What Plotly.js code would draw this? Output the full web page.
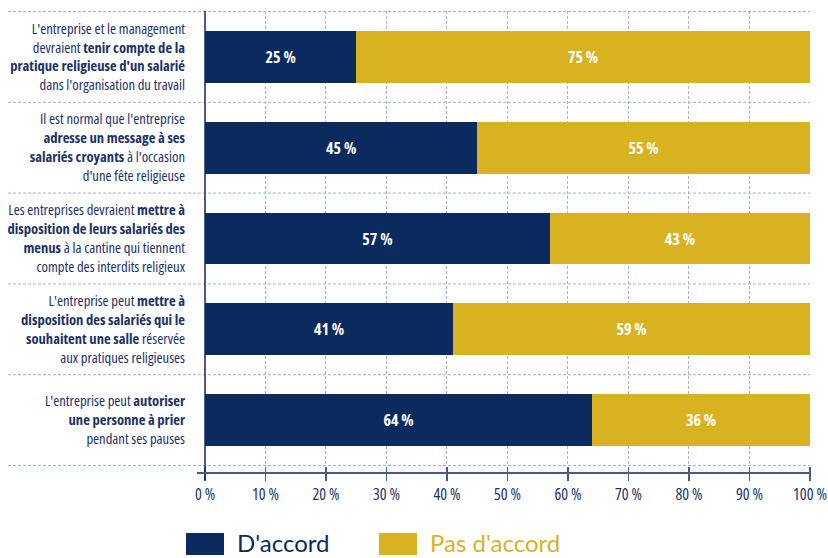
<!DOCTYPE html>
<html>
<head>
<meta charset="utf-8">
<script src="https://cdn.plot.ly/plotly-3.0.1.min.js"></script>
<style>
html,body{margin:0;padding:0;background:#fff;}
#chart{width:828px;height:558px;}
#chart .ytick text, #chart .xtick text, #chart .bartext, #chart .bartext tspan, #chart .ytick tspan { font-stretch: condensed !important; }
</style>
</head>
<body>
<div id="chart"></div>
<script>
// ---- data ----
const categories = [
  "L'entreprise et le management<br>devraient <b>tenir compte de la</b><br><b>pratique religieuse d'un salarié</b><br>dans l'organisation du travail",
  "Il est normal que l'entreprise<br><b>adresse un message à ses</b><br><b>salariés croyants</b> à l'occasion<br>d'une fête religieuse",
  "Les entreprises devraient <b>mettre à</b><br><b>disposition de leurs salariés des</b><br><b>menus</b> à la cantine qui tiennent<br>compte des interdits religieux",
  "L'entreprise peut <b>mettre à</b><br><b>disposition des salariés qui le</b><br><b>souhaitent une salle</b> réservée<br>aux pratiques religieuses",
  "L'entreprise peut <b>autoriser</b><br><b>une personne à prier</b><br>pendant ses pauses"
];
const seriesNames = ["D'accord", "Pas d'accord"];
const accord = [25, 45, 57, 41, 64];
const pasAccord = [75, 55, 43, 59, 36];
const xTickVals = [0, 10, 20, 30, 40, 50, 60, 70, 80, 90, 100];
const xTickText = ["0 %", "10 %", "20 %", "30 %", "40 %", "50 %", "60 %", "70 %", "80 %", "90 %", "100 %"];

// ---- style ----
const NAVY = "#0b2a5e";
const GOLD = "#d9b222";
const TEXTNAVY = "#1c3263";
const GRID = "#a7b1ca";
const AXIS = "#4a5a80";
const COND = "'Open Sans', 'Roboto Condensed', sans-serif";

const W = 828, H = 558;
const M = {l: 205, r: 18, t: 11, b: 92};
const PW = W - M.l - M.r, PH = H - M.t - M.b;
const px2x = p => (p - M.l) / PW;
const px2y = p => (H - M.b - p) / PH;

const barText = arr => arr.map(v => "<b>" + v + " %</b>");

const traces = [
  {type: "bar", orientation: "h", name: seriesNames[0], y: categories, x: accord,
   marker: {color: NAVY}, text: barText(accord), textposition: "inside",
   insidetextanchor: "middle", textangle: 0, constraintext: "none",
   textfont: {family: COND, size: 16, color: "#ffffff"}, hoverinfo: "x+name"},
  {type: "bar", orientation: "h", name: seriesNames[1], y: categories, x: pasAccord,
   marker: {color: GOLD}, text: barText(pasAccord), textposition: "inside",
   insidetextanchor: "middle", textangle: 0, constraintext: "none",
   textfont: {family: COND, size: 16, color: "#ffffff"}, hoverinfo: "x+name"}
];

const shapes = [];
// horizontal dashed separators extending into label area
for (let i = 0; i <= categories.length; i++) {
  shapes.push({type: "line", xref: "paper", yref: "y", x0: px2x(8), x1: 1,
    y0: i - 0.5, y1: i - 0.5, line: {color: GRID, width: 1, dash: "3px,2px"}, layer: "below"});
}
// left axis line
shapes.push({type: "line", xref: "paper", yref: "paper", x0: 0, x1: 0, y0: px2y(480), y1: 1,
  line: {color: NAVY, width: 1.5}, layer: "above"});
// bottom axis line
shapes.push({type: "line", xref: "paper", yref: "paper", x0: px2x(197), x1: 1, y0: px2y(473), y1: px2y(473),
  line: {color: AXIS, width: 2}, layer: "above"});
// legend squares
shapes.push({type: "rect", xref: "paper", yref: "paper", x0: px2x(186), x1: px2x(224), y0: px2y(555), y1: px2y(533),
  fillcolor: NAVY, line: {width: 0}});
shapes.push({type: "rect", xref: "paper", yref: "paper", x0: px2x(379), x1: px2x(417), y0: px2y(555), y1: px2y(533),
  fillcolor: GOLD, line: {width: 0}});

const annotations = [
  {xref: "paper", yref: "paper", x: px2x(235), y: px2y(542), xanchor: "left", yanchor: "middle",
   text: seriesNames[0], showarrow: false, font: {family: "Lato, sans-serif", size: 24, color: NAVY}},
  {xref: "paper", yref: "paper", x: px2x(428), y: px2y(542), xanchor: "left", yanchor: "middle",
   text: seriesNames[1], showarrow: false, font: {family: "Lato, sans-serif", size: 24, color: GOLD}}
];

const layout = {
  width: W, height: H,
  margin: M,
  barmode: "stack",
  bargap: 0.43,
  showlegend: false,
  paper_bgcolor: "#ffffff",
  plot_bgcolor: "#ffffff",
  xaxis: {
    range: [0, 100.01], tickvals: xTickVals, ticktext: xTickText,
    showgrid: true, gridcolor: GRID, gridwidth: 1, griddash: "3px,2px",
    zeroline: false, showline: false,
    ticks: "outside", ticklen: 14, tickwidth: 1.5, tickcolor: AXIS,
    ticklabeloverflow: "allow",
    tickfont: {family: COND, size: 16, color: TEXTNAVY},
    fixedrange: true
  },
  yaxis: {
    autorange: "reversed", showgrid: false, zeroline: false, showline: false,
    ticks: "", ticklabelstandoff: 19,
    tickfont: {family: COND, size: 14.6, color: TEXTNAVY},
    fixedrange: true
  },
  shapes: shapes,
  annotations: annotations
};

Plotly.newPlot("chart", traces, layout, {displayModeBar: false, staticPlot: true});
</script>
</body>
</html>
